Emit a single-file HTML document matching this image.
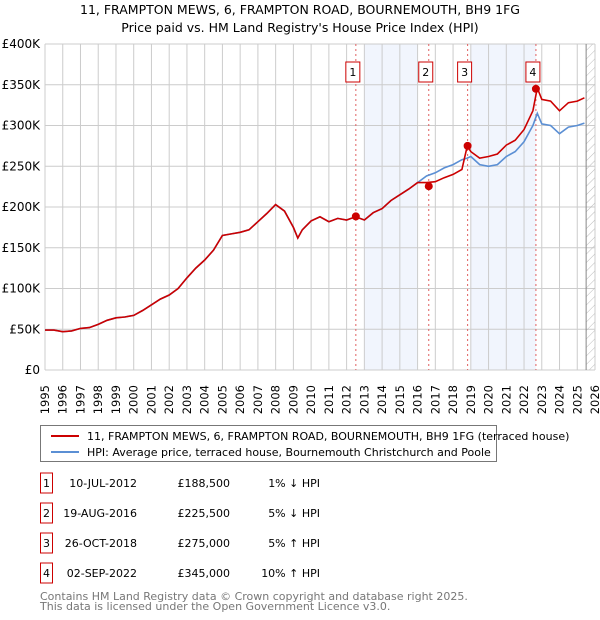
<!DOCTYPE html>
<html><head><meta charset="utf-8"><style>
body{margin:0;background:#fff;width:600px;height:620px;overflow:hidden;font-family:"Liberation Sans","DejaVu Sans",sans-serif;position:relative}
svg text{font-family:"DejaVu Sans","Liberation Sans",sans-serif}
.xl{position:absolute;font-family:"DejaVu Sans","Liberation Sans",sans-serif;font-size:11.5px;line-height:14px;width:14px;height:36px;white-space:nowrap;writing-mode:vertical-rl;writing-mode:sideways-lr;text-align:start}
</style></head><body>
<svg id="c" width="600" height="620" xmlns="http://www.w3.org/2000/svg" style="position:absolute;left:0;top:0">
<text x="300" y="14" font-size="12.5" text-anchor="middle">11, FRAMPTON MEWS, 6, FRAMPTON ROAD, BOURNEMOUTH, BH9 1FG</text>
<text x="300" y="32" font-size="12.5" text-anchor="middle">Price paid vs. HM Land Registry's House Price Index (HPI)</text>
<defs><pattern id="hatch" width="6" height="6" patternUnits="userSpaceOnUse" patternTransform="rotate(45)"><line x1="0" y1="0" x2="0" y2="6" stroke="#bbb" stroke-width="1"/></pattern></defs>
<g id="plot"></g>
<g>
<rect x="40.5" y="425.5" width="456" height="36" fill="#fff" stroke="#777"/>
<line x1="51" y1="436" x2="79" y2="436" stroke="#cc0000" stroke-width="2"/>
<text x="87" y="440" font-size="11">11, FRAMPTON MEWS, 6, FRAMPTON ROAD, BOURNEMOUTH, BH9 1FG (terraced house)</text>
<line x1="51" y1="452" x2="79" y2="452" stroke="#5b8fd4" stroke-width="2"/>
<text x="87" y="456" font-size="11">HPI: Average price, terraced house, Bournemouth Christchurch and Poole</text>
</g>
<g id="table" font-size="11"></g>
<text x="40" y="600" font-size="11" fill="#777">Contains HM Land Registry data © Crown copyright and database right 2025.</text>
<text x="40" y="610" font-size="11" fill="#777">This data is licensed under the Open Government Licence v3.0.</text>
</svg>
<div id="xlabels"></div>
<script>
const years=[1995,1995.5,1996,1996.5,1997,1997.5,1998,1998.5,1999,1999.5,2000,2000.5,2001,2001.5,2002,2002.5,2003,2003.5,2004,2004.5,2005,2005.5,2006,2006.5,2007,2007.5,2008,2008.5,2009,2009.25,2009.5,2010,2010.5,2011,2011.5,2012,2012.5,2013,2013.5,2014,2014.5,2015,2015.5,2016,2016.5,2017,2017.5,2018,2018.5,2018.8,2019,2019.5,2020,2020.5,2021,2021.5,2022,2022.5,2022.75,2023,2023.5,2024,2024.5,2025,2025.4];
const hpi=[49,49,47,48,51,52,56,61,64,65,67,73,80,87,92,100,113,125,135,147,165,167,169,172,182,192,203,195,175,162,172,183,188,182,186,184,188,184,193,198,208,215,222,230,238,242,248,252,258,260,262,252,250,252,262,268,280,300,315,302,300,290,298,300,303];
const price=[49,49,47,48,51,52,56,61,64,65,67,73,80,87,92,100,113,125,135,147,165,167,169,172,182,192,203,195,175,162,172,183,188,182,186,184,188,184,193,198,208,215,222,230,230,231,236,240,246,275,268,260,262,265,276,282,295,318,346,332,330,318,328,330,334];
const saleYears=[2012.52,2016.63,2018.82,2022.67];
const salePrices=[188.5,225.5,275,345];
const saleDates=["10-JUL-2012","19-AUG-2016","26-OCT-2018","02-SEP-2022"];
const saleText=["£188,500","£225,500","£275,000","£345,000"];
const saleHpi=["1% ↓ HPI","5% ↓ HPI","5% ↑ HPI","10% ↑ HPI"];
const yTicks=[0,50,100,150,200,250,300,350,400];
const yLabels=["£0","£50K","£100K","£150K","£200K","£250K","£300K","£350K","£400K"];
const xTicks=[];for(let y=1995;y<=2026;y++)xTicks.push(y);
const L=45,R=595,T=44,B=370;
const xs=v=>L+(v-1995)/(2026-1995)*(R-L);
const ys=v=>B-v/400*(B-T);
const NS="http://www.w3.org/2000/svg";
const plot=document.getElementById('plot');
function mk(tag,attrs,parent){const e=document.createElementNS(NS,tag);for(const k in attrs)e.setAttribute(k,attrs[k]);(parent||plot).appendChild(e);return e;}
let e;
e=mk('rect',{x:L,y:T,width:R-L,height:B-T,fill:'#fff'});


[[2013,2016],[2019,2022.67]].forEach(s=>{e=mk('rect',{x:xs(s[0]),y:T,width:xs(s[1])-xs(s[0]),height:B-T,fill:'#eef3fc',opacity:0.8});

});
const xl=document.getElementById('xlabels');
xTicks.forEach(y=>{e=mk('line',{x1:xs(y),x2:xs(y),y1:T,y2:B,stroke:'#ccc'});


e=document.createElement('div');e.className='xl';e.textContent=y;
e.style.left=(xs(y)-7)+'px';e.style.top='378px';


xl.appendChild(e);});
yTicks.forEach((v,i)=>{e=mk('line',{x1:L,x2:R,y1:ys(v),y2:ys(v),stroke:'#ccc'});


e=mk('text',{x:L-5,y:ys(v)+4,'font-size':12,'text-anchor':'end'});e.textContent=yLabels[i];

});
e=mk('rect',{x:xs(2025.5),y:T,width:R-xs(2025.5),height:B-T,fill:'url(#hatch)'});


e=mk('line',{x1:xs(2025.5),x2:xs(2025.5),y1:T,y2:B,stroke:'#888'});


saleYears.forEach((y,i)=>{e=mk('line',{x1:xs(y),x2:xs(y),y1:T,y2:B,stroke:'#e06060','stroke-dasharray':'2,3'});


e=mk('rect',{x:xs(y)-10,y:62,width:14,height:20,fill:'#fff',stroke:'#cc0000'});


e=mk('text',{x:xs(y)-3,y:76,'font-size':11,'text-anchor':'middle'});e.textContent=i+1;

});
const pts=a=>a.map((v,i)=>xs(years[i]).toFixed(1)+','+ys(v).toFixed(1)).join(' ');
e=mk('polyline',{points:pts(hpi),fill:'none',stroke:'#5b8fd4','stroke-width':1.6});


e=mk('polyline',{points:pts(price),fill:'none',stroke:'#cc0000','stroke-width':1.6});


saleYears.forEach((y,i)=>{e=mk('circle',{cx:xs(y),cy:ys(salePrices[i]),r:4,fill:'#cc0000'});

});
const tb=document.getElementById('table');
saleDates.forEach((d,i)=>{const yy=483+i*30;
e=mk('rect',{x:40.5,y:yy-10,width:12,height:20,fill:'#fff',stroke:'#cc0000'},tb);


e=mk('text',{x:46.5,y:yy+4,'text-anchor':'middle'},tb);e.textContent=i+1;


e=mk('text',{x:137,y:yy+4,'text-anchor':'end'},tb);e.textContent=d;


e=mk('text',{x:230,y:yy+4,'text-anchor':'end'},tb);e.textContent=saleText[i];


e=mk('text',{x:320,y:yy+4,'text-anchor':'end'},tb);e.textContent=saleHpi[i];

});
</script>
</body></html>
